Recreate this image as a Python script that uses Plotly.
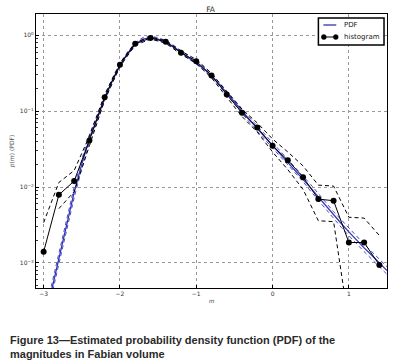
import plotly.graph_objects as go

# ---------------- data ----------------
pdf_x = [-2.9, -2.8, -2.7, -2.6, -2.5, -2.4, -2.3, -2.2, -2.1, -2.0,
         -1.9, -1.8, -1.7, -1.6, -1.5, -1.4, -1.3, -1.2, -1.1, -1.0,
         -0.9, -0.8, -0.7, -0.6, -0.5, -0.4, -0.3, -0.2, -0.1, 0.0,
         0.1, 0.2, 0.3, 0.4, 0.5, 0.6, 0.7, 0.8, 0.9, 1.0,
         1.1, 1.2, 1.3, 1.4, 1.5]
pdf_y = [4.17e-4, 1.12e-3, 3.02e-3, 8.51e-3, 0.0200, 0.0437, 0.0794, 0.148, 0.251, 0.398,
         0.575, 0.759, 0.891, 0.923, 0.891, 0.813, 0.708, 0.603, 0.513, 0.437,
         0.363, 0.295, 0.229, 0.174, 0.132, 0.100, 0.0759, 0.0589, 0.0457, 0.0355,
         0.0275, 0.0214, 0.0166, 0.0129, 0.00977, 0.00741, 0.00562, 0.00427, 0.00331, 0.00257,
         0.00200, 0.00158, 0.00126, 0.00100, 0.000794]
pdf_upper = [4.90e-4, 1.32e-3, 3.55e-3, 1.00e-2, 0.0230, 0.0490, 0.0870, 0.160, 0.269, 0.421,
             0.602, 0.795, 0.933, 0.966, 0.933, 0.851, 0.741, 0.631, 0.537, 0.458,
             0.384, 0.312, 0.242, 0.187, 0.141, 0.107, 0.0813, 0.0638, 0.0495, 0.0385,
             0.0301, 0.0235, 0.0182, 0.0141, 0.0108, 0.00822, 0.00623, 0.00474, 0.00371, 0.00288,
             0.00224, 0.00177, 0.00141, 0.00112, 0.000891]
pdf_lower = [3.55e-4, 9.53e-4, 2.57e-3, 7.24e-3, 0.0174, 0.0389, 0.0724, 0.137, 0.234, 0.376,
             0.549, 0.725, 0.851, 0.881, 0.851, 0.776, 0.676, 0.576, 0.490, 0.417,
             0.343, 0.278, 0.216, 0.162, 0.123, 0.0933, 0.0708, 0.0544, 0.0422, 0.0328,
             0.0251, 0.0195, 0.0151, 0.0118, 0.00881, 0.00668, 0.00507, 0.00385, 0.00295, 0.00229,
             0.00178, 0.00141, 0.00112, 0.000891, 0.000708]

hist_x = [-3.0, -2.8, -2.6, -2.4, -2.2, -2.0, -1.8, -1.6, -1.4, -1.2, -1.0, -0.8,
          -0.6, -0.4, -0.2, 0.0, 0.2, 0.4, 0.6, 0.8, 1.0, 1.2, 1.4]
hist_y = [0.0014, 0.0079, 0.012, 0.041, 0.153, 0.41, 0.77, 0.92, 0.82, 0.59, 0.455, 0.295,
          0.166, 0.095, 0.061, 0.035, 0.0226, 0.0135, 0.00695, 0.0066, 0.00186, 0.00186, 0.00094]
hist_upper = [0.0034, 0.0115, 0.0165, 0.047, 0.165, 0.43, 0.80, 0.95, 0.85, 0.62, 0.48, 0.315,
              0.18, 0.106, 0.070, 0.043, 0.029, 0.019, 0.0106, 0.0103, 0.0040, 0.0039, 0.0023]
hist_lower = [None, 0.0052, 0.0087, 0.035, 0.14, 0.39, 0.74, 0.89, 0.79, 0.56, 0.43, 0.275,
              0.152, 0.085, 0.053, 0.029, 0.017, 0.0093, 0.0036, 0.0035, 1.6e-4, 1e-4, 1e-4]

x_ticks = [-3, -2, -1, 0, 1]
x_ticklabels = ["\u22123", "\u22122", "\u22121", "0", "1"]
y_ticks = [1, 0.1, 0.01, 0.001]
y_ticklabels = ["10<sup>0</sup>", "10<sup>\u22121</sup>", "10<sup>\u22122</sup>", "10<sup>\u22123</sup>"]
y_minor = [m * 10.0 ** e for e in (-4, -3, -2, -1, 0) for m in range(2, 10)]

title = "FA"
legend_labels = ["PDF", "histogram"]
caption = "Figure 13\u2014Estimated probability density function (PDF) of the<br>magnitudes in Fabian volume"

# ---------------- figure ----------------
BLUE = "#3434b4"
BLUE_D = "#4a4ac8"

fig = go.Figure()
fig.add_trace(go.Scatter(x=pdf_x, y=pdf_upper, mode="lines", line=dict(color=BLUE_D, width=1, dash="4px,3px"),
                         showlegend=False, hoverinfo="skip"))
fig.add_trace(go.Scatter(x=pdf_x, y=pdf_lower, mode="lines", line=dict(color=BLUE_D, width=1, dash="4px,3px"),
                         showlegend=False, hoverinfo="skip"))
fig.add_trace(go.Scatter(x=pdf_x, y=pdf_y, mode="lines", name=legend_labels[0], line=dict(color=BLUE, width=1.3),
                         showlegend=False))
fig.add_trace(go.Scatter(x=hist_x, y=hist_upper, mode="lines", line=dict(color="black", width=1, dash="4px,3px"),
                         showlegend=False, hoverinfo="skip", connectgaps=False))
fig.add_trace(go.Scatter(x=hist_x, y=hist_lower, mode="lines", line=dict(color="black", width=1, dash="4px,3px"),
                         showlegend=False, hoverinfo="skip", connectgaps=False))
fig.add_trace(go.Scatter(x=hist_x, y=hist_y, mode="lines+markers", name=legend_labels[1],
                         line=dict(color="black", width=1), marker=dict(color="black", size=6),
                         showlegend=False))

axis_common = dict(showline=True, linecolor="black", linewidth=1.2, mirror=True,
                   ticks="inside", ticklen=3, tickcolor="black", tickwidth=0.8,
                   showgrid=True, gridcolor="#999999", griddash="dot", gridwidth=1,
                   zeroline=False, tickfont=dict(family="DejaVu Sans", size=6, color="#333333"))

# legend box drawn manually (matplotlib-style compact legend)
def px_x(p):  # pixel column -> paper x
    return (p - 34) / 353.0

def px_y(p):  # pixel row -> paper y
    return (288 - p) / 274.0

shapes = [
    dict(type="rect", xref="paper", yref="paper", x0=px_x(318), x1=px_x(384), y0=px_y(45), y1=px_y(18),
         line=dict(color="black", width=1.5), fillcolor="white", layer="above"),
    dict(type="line", xref="paper", yref="paper", x0=px_x(323), x1=px_x(336), y0=px_y(25), y1=px_y(25),
         line=dict(color=BLUE, width=1.3), layer="above"),
    dict(type="line", xref="paper", yref="paper", x0=px_x(323), x1=px_x(336), y0=px_y(37), y1=px_y(37),
         line=dict(color="black", width=1), layer="above"),
]
for cx in (323.5, 335.5):
    shapes.append(dict(type="circle", xref="paper", yref="paper",
                       x0=px_x(cx - 2.5), x1=px_x(cx + 2.5), y0=px_y(37 + 2.5), y1=px_y(37 - 2.5),
                       line=dict(color="black", width=0.5), fillcolor="black", layer="above"))

annotations = [
    dict(text=legend_labels[0], xref="paper", yref="paper", x=px_x(342), y=px_y(25),
         xanchor="left", yanchor="middle", showarrow=False,
         font=dict(family="DejaVu Sans", size=7, color="#222222")),
    dict(text=legend_labels[1], xref="paper", yref="paper", x=px_x(342), y=px_y(37),
         xanchor="left", yanchor="middle", showarrow=False,
         font=dict(family="DejaVu Sans", size=7, color="#222222")),
    dict(text=caption, xref="paper", yref="paper", x=-0.08, y=-0.16,
         xanchor="left", yanchor="top", align="left", showarrow=False,
         font=dict(family="Liberation Sans", size=11, color="#2a2a2a", weight="bold")),
]

fig.update_layout(
    width=406, height=364,
    margin=dict(l=34, r=19, t=14, b=76),
    paper_bgcolor="white", plot_bgcolor="white",
    showlegend=False,
    title=dict(text=title, x=0.5185, xanchor="center", y=0.975, yanchor="middle",
               font=dict(family="DejaVu Sans", size=7.5, color="#333333")),
    xaxis=dict(range=[-3.1, 1.5], tickvals=x_ticks, ticktext=x_ticklabels,
               title=dict(text="<i>m</i>", font=dict(family="DejaVu Serif", size=6, color="#555555"), standoff=2),
               **axis_common),
    yaxis=dict(type="log", range=[-3.33, 0.28], tickvals=y_ticks, ticktext=y_ticklabels,
               title=dict(text="<i>p</i>(<i>m</i>) (PDF)", font=dict(family="DejaVu Sans", size=6, color="#555555"), standoff=4),
               minor=dict(tickvals=y_minor, ticks="inside", ticklen=2, tickcolor="#333333", tickwidth=0.6,
                          showgrid=False),
               **axis_common),
    shapes=shapes,
    annotations=annotations,
)

fig.write_html("out.html", post_script="document.body.style.margin='0';",
               config={"displayModeBar": False})
